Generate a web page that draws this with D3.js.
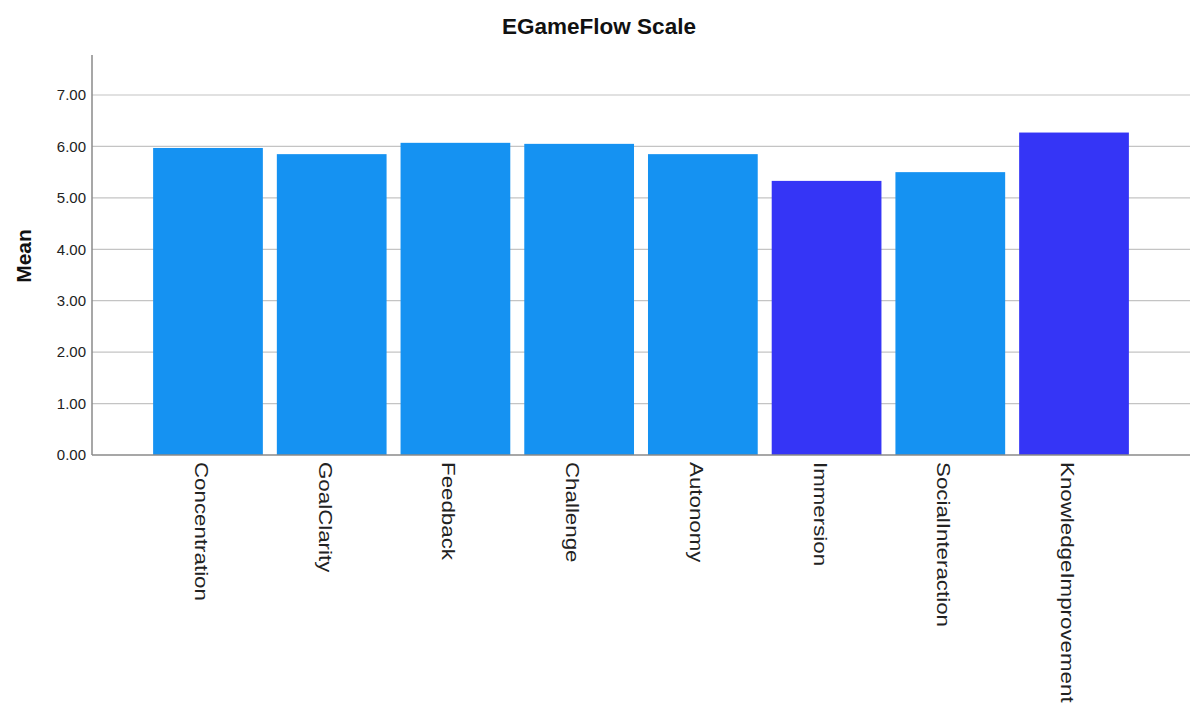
<!DOCTYPE html>
<html><head><meta charset="utf-8">
<script src="https://cdn.jsdelivr.net/npm/d3@7"></script>
<style>body{margin:0;background:#fff;} text{font-family:"Liberation Sans",Arial,sans-serif;}</style>
</head><body>
<svg id="c" width="1196" height="709"></svg>
<script>
const categories = ["Concentration","GoalClarity","Feedback","Challenge","Autonomy","Immersion","SocialInteraction","KnowledgeImprovement"];
const means = [5.97, 5.85, 6.07, 6.05, 5.85, 5.33, 5.50, 6.27];
const groups = ["a","a","a","a","a","b","a","b"];
const yTicks = [0,1,2,3,4,5,6,7];
const title = "EGameFlow Scale";
const yTitle = "Mean";

const svg = d3.select("#c");
const x0 = 92, x1 = 1190, yBottom = 455, yTop7 = 95;
const x = d3.scaleBand().domain(categories).range([x0, x1]).paddingInner(0.113).paddingOuter(0.494);
const y = d3.scaleLinear().domain([0,7]).range([yBottom, yTop7]);
const color = d3.scaleOrdinal().domain(["a","b"]).range(["#1592f2","#3535f6"]);

// gridlines
svg.append("g").selectAll("line").data(yTicks.filter(d=>d>0)).join("line")
  .attr("x1", x0).attr("x2", x1).attr("y1", d=>y(d)).attr("y2", d=>y(d))
  .attr("stroke", "#c4c4c4").attr("stroke-width", 1.2);

// bars
svg.append("g").selectAll("rect").data(categories).join("rect")
  .attr("x", d=>x(d)).attr("width", x.bandwidth())
  .attr("y", (d,i)=>y(means[i])).attr("height", (d,i)=>yBottom - y(means[i]))
  .attr("fill", (d,i)=>color(groups[i]));

// y axis
const yAxis = d3.axisLeft(y).tickValues(yTicks).tickFormat(d3.format(".2f")).tickSize(0).tickPadding(6);
const ga = svg.append("g").attr("transform", `translate(${x0},0)`).call(yAxis);
ga.select(".domain").remove();
ga.selectAll("text").attr("font-size", 15).attr("fill", "#222").attr("font-family", "'Liberation Sans',Arial,sans-serif");
svg.append("line").attr("x1", x0).attr("x2", x0).attr("y1", 55).attr("y2", yBottom).attr("stroke", "#8a8a8a").attr("stroke-width", 1.5);
// x axis line
svg.append("line").attr("x1", x0).attr("x2", x1).attr("y1", yBottom).attr("y2", yBottom).attr("stroke", "#8a8a8a").attr("stroke-width", 1.5);

// x labels
const xAxis = d3.axisBottom(x).tickSize(0).tickPadding(0);
const gx = svg.append("g").attr("transform", `translate(0,${yBottom})`).call(xAxis);
gx.select(".domain").remove();
gx.selectAll(".tick text")
  .attr("font-size", 19).attr("fill", "#222").attr("font-family", "'Liberation Sans',Arial,sans-serif")
  .attr("text-anchor", "start").attr("dy", null).attr("y", null)
  .attr("transform", "translate(-13,7) rotate(90) scale(1.175,1)");

// titles
svg.append("text").attr("x", 599).attr("y", 34).attr("text-anchor", "middle")
  .attr("font-size", 22.5).attr("font-weight", "bold").attr("fill", "#111").text(title);
svg.append("text").attr("transform", "translate(31,256) rotate(-90)").attr("text-anchor", "middle")
  .attr("font-size", 21).attr("font-weight", "bold").attr("fill", "#111").text(yTitle);
</script>
</body></html>
